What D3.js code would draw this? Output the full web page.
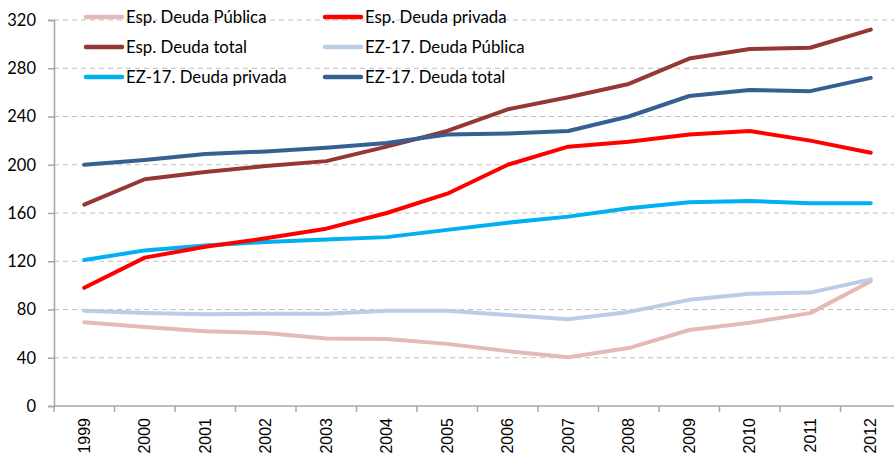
<!DOCTYPE html>
<html><head><meta charset="utf-8">
<script src="https://cdn.jsdelivr.net/npm/d3@7"></script>
<style>body{margin:0;background:#fff}svg{display:block}</style>
</head><body>
<svg id="c" width="894" height="457"></svg>
<script>
const years = ["1999","2000","2001","2002","2003","2004","2005","2006","2007","2008","2009","2010","2011","2012"];
const espPublica = [69.5,65.5,62,60.5,56,55.5,51.5,45.5,40.5,48,63,69,77,103.5];
const espPrivada = [98,123,132,139,147,160,176,200,215,219,225,228,220,210];
const espTotal = [167,188,194,199,203,215,228,246,256,267,288,296,297,312];
const ezPublica = [79,77,76,76.5,76.5,79,79,75.5,72,78,88,93,94,105];
const ezPrivada = [121,129,133,136,138,140,146,152,157,164,169,170,168,168];
const ezTotal = [200,204,209,211,214,218,225,226,228,240,257,262,261,272];
const yTicks = [0,40,80,120,160,200,240,280,320];
const seriesNames = ["Esp. Deuda Pública","Esp. Deuda privada","Esp. Deuda total","EZ-17. Deuda Pública","EZ-17. Deuda privada","EZ-17. Deuda total"];
const seriesValues = [espPublica, espPrivada, espTotal, ezPublica, ezPrivada, ezTotal];
const colors = ["#e6b9b8","#ff0000","#953735","#b9cde5","#00b0f0","#376092"];

const svg = d3.select("#c");
const x = d3.scaleBand().domain(years).range([54, 901]);
const y = d3.scaleLinear().domain([0,320]).range([406, 20]);

// gridlines
svg.append("g").selectAll("line").data(yTicks.filter(d=>d>0)).join("line")
  .attr("x1",54).attr("x2",894).attr("y1",d=>y(d)).attr("y2",d=>y(d))
  .attr("stroke","#bfbfbf").attr("stroke-width",1).attr("stroke-dasharray","5,4");

// y axis
const ya = svg.append("g").attr("transform","translate(54,0)")
  .call(d3.axisLeft(y).tickValues(yTicks).tickSize(6).tickPadding(12).tickFormat(d3.format("d")));
ya.select(".domain").attr("stroke","#a6a6a6").attr("stroke-width",1.5);
ya.selectAll(".tick line").attr("stroke","#a6a6a6").attr("stroke-width",1.5);
ya.selectAll("text").attr("font-family","Lato, sans-serif").attr("font-size",16.5).attr("fill","#000");

// x axis
const xa = svg.append("g").attr("transform","translate(0,406)")
  .call(d3.axisBottom(x).tickSize(0).tickSizeOuter(0));
xa.select(".domain").attr("stroke","#a6a6a6").attr("stroke-width",1.5).attr("d","M54,0H894");
xa.selectAll(".tick text")
  .attr("font-family","Liberation Sans, Arial, sans-serif").attr("font-size",16).attr("fill","#000")
  .attr("transform","rotate(-90)").attr("text-anchor","end").attr("dy","0.35em").attr("x",-12).attr("y",0);
// boundary tick marks
svg.append("g").selectAll("line").data(years).join("line")
  .attr("x1",d=>x(d)).attr("x2",d=>x(d)).attr("y1",406).attr("y2",412)
  .attr("stroke","#a6a6a6").attr("stroke-width",1.5);

// lines
const line = d3.line().x((d,i)=>x(years[i])+x.bandwidth()/2).y(d=>y(d));
const drawOrder = [0,3,4,1,2,5];
drawOrder.forEach(k=>{
  svg.append("path").datum(seriesValues[k]).attr("d",line)
    .attr("fill","none").attr("stroke",colors[k]).attr("stroke-width",4)
    .attr("stroke-linejoin","round").attr("stroke-linecap","round");
});

// legend
const lg = svg.append("g");
seriesNames.forEach((n,i)=>{
  const col = i%2, row = Math.floor(i/2);
  const lx = col===0 ? 86 : 325;
  const ly = 17 + row*30;
  lg.append("line").attr("x1",lx).attr("x2",lx+36).attr("y1",ly).attr("y2",ly)
    .attr("stroke",colors[i]).attr("stroke-width",4.5).attr("stroke-linecap","round");
  lg.append("text").attr("x",lx+40).attr("y",ly).attr("dy","0.35em")
    .attr("font-family","Lato, sans-serif").attr("font-size",16.8).attr("fill","#000").text(n);
});
</script>
</body></html>
